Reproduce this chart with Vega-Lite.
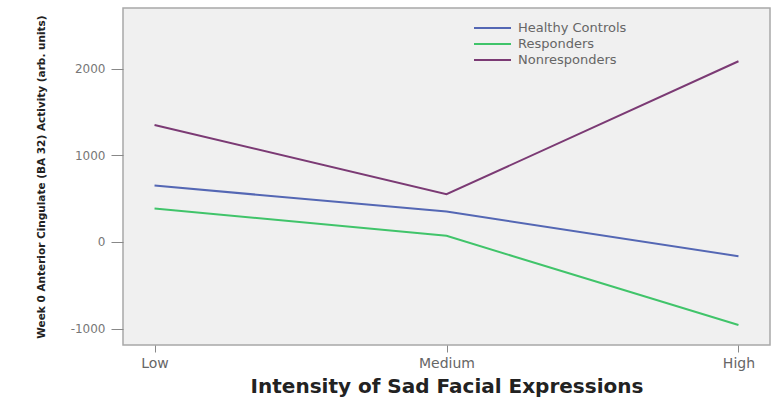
{
  "$schema": "https://vega.github.io/schema/vega-lite/v6.json",
  "autosize": {"type": "none"},
  "padding": {"left": 123, "top": 8, "right": 3, "bottom": 53},
  "width": 647,
  "height": 337,
  "background": "white",
  "config": {
    "view": {"fill": "#f0f0f0", "stroke": "#a8a8a8", "strokeWidth": 1.5},
    "font": "DejaVu Sans"
  },
  "data": {
    "values": [
      {"intensity": "Low", "group": "Healthy Controls", "activity": 650},
      {"intensity": "Medium", "group": "Healthy Controls", "activity": 350},
      {"intensity": "High", "group": "Healthy Controls", "activity": -165},
      {"intensity": "Low", "group": "Responders", "activity": 385},
      {"intensity": "Medium", "group": "Responders", "activity": 70},
      {"intensity": "High", "group": "Responders", "activity": -960},
      {"intensity": "Low", "group": "Nonresponders", "activity": 1350},
      {"intensity": "Medium", "group": "Nonresponders", "activity": 550},
      {"intensity": "High", "group": "Nonresponders", "activity": 2085}
    ]
  },
  "mark": {"type": "line", "strokeWidth": 2},
  "encoding": {
    "x": {
      "field": "intensity",
      "type": "ordinal",
      "sort": ["Low", "Medium", "High"],
      "scale": {"type": "point", "padding": 0.108},
      "axis": {
        "title": "Intensity of Sad Facial Expressions",
        "titleFont": "DejaVu Sans",
        "titleFontWeight": "bold",
        "titleFontSize": 20,
        "titleColor": "#222",
        "titlePadding": 6,
        "labelAngle": 0,
        "labelFontSize": 14,
        "labelColor": "#666",
        "labelPadding": 4,
        "tickSize": 7,
        "tickColor": "#888",
        "domain": false,
        "grid": false
      }
    },
    "y": {
      "field": "activity",
      "type": "quantitative",
      "scale": {"domain": [-1190, 2700], "nice": false, "zero": false},
      "axis": {
        "title": "Week 0 Anterior Cingulate (BA 32) Activity (arb. units)",
        "titleFontWeight": "bold",
        "titleFontSize": 10.5,
        "titleColor": "#222",
        "titlePadding": 24,
        "values": [-1000, 0, 1000, 2000],
        "labelExpr": "datum.value < 0 ? '-' + abs(datum.value) : '' + datum.value",
        "labelFontSize": 12,
        "labelColor": "#777",
        "labelPadding": 6,
        "tickSize": 12,
        "tickColor": "#888",
        "domain": false,
        "grid": false
      }
    },
    "color": {
      "field": "group",
      "type": "nominal",
      "sort": ["Healthy Controls", "Responders", "Nonresponders"],
      "scale": {
        "domain": ["Healthy Controls", "Responders", "Nonresponders"],
        "range": ["#5467b4", "#40c46a", "#7b3a74"]
      },
      "legend": {
        "title": null,
        "orient": "none",
        "legendX": 350,
        "legendY": 12,
        "symbolType": "stroke",
        "symbolSize": 1369,
        "symbolStrokeWidth": 2,
        "clipHeight": 16,
        "labelFontSize": 13,
        "labelColor": "#666",
        "labelOffset": 6,
        "rowPadding": 0
      }
    }
  }
}
